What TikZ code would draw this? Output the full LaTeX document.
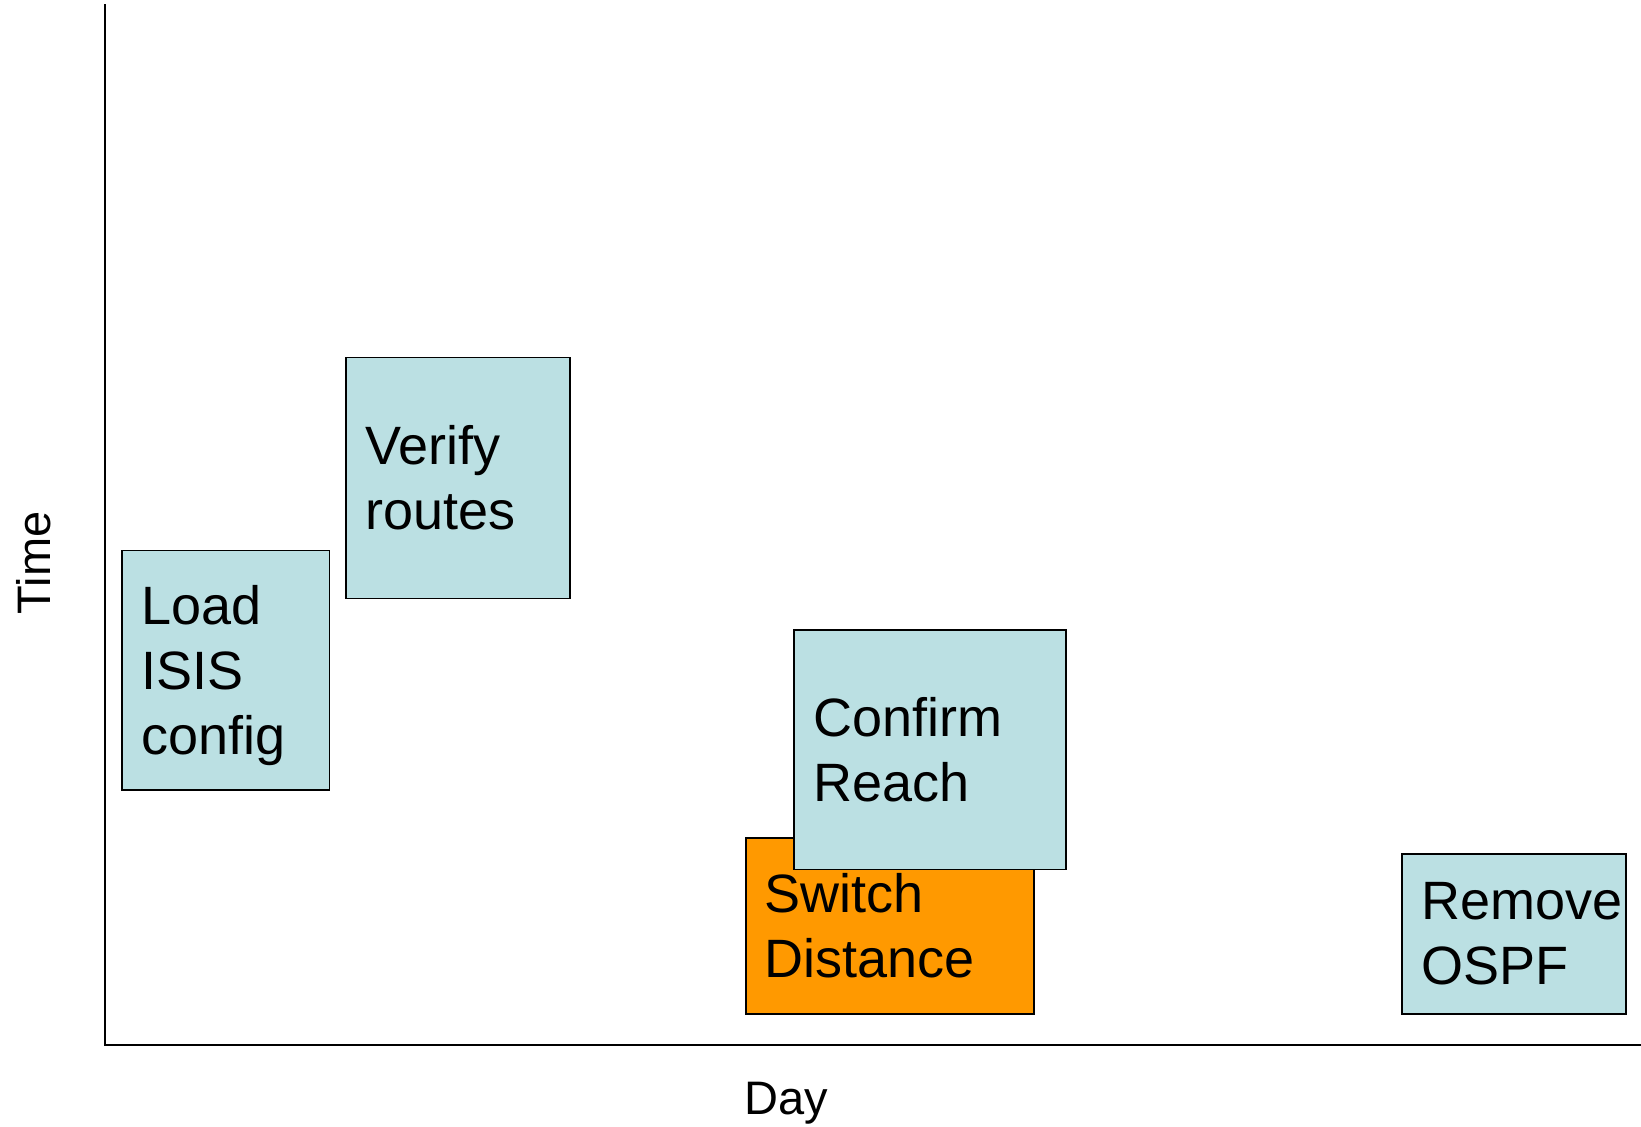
\documentclass[tikz,border=0pt]{standalone}
\usepackage{fontspec}
\setmainfont{Liberation Sans}
\definecolor{taskblue}{HTML}{BBE0E3}
\definecolor{switchorange}{HTML}{FF9900}

\begin{document}
\begin{tikzpicture}[x=1pt,y=-1pt,
  task/.style={draw=black, line width=1.5pt, fill=taskblue, anchor=north west,
    align=left, inner xsep=19pt, inner ysep=0pt,
    font=\fontsize{54}{64.8}\selectfont},
  axislabel/.style={inner sep=0pt, font=\fontsize{47}{56}\selectfont},
  axisline/.style={draw=black, line width=2pt}]
\useasboundingbox (0,0) rectangle (1641,1127);
% axes
\coordinate (top) at (105,4);
\coordinate (origin) at (105,1044.5);
\coordinate (right) at (1641,1044.5);
\draw [axisline] (top) -- (origin) -- (right);
\node [axislabel, rotate=90, anchor=base] (time) at (50,563) {Time};
\node [axislabel, anchor=base] (day) at (786,1114) {Day};
% tasks
\node [task, text width=169.2pt, minimum height=239.6pt] (load) at (121.4,549.5) {Load\\ISIS\\\smash{config}};
\node [task, text width=185.9pt, minimum height=240.7pt] (verify) at (345.4,356.9) {Verify\\routes};
\node [task, fill=switchorange, text width=249.8pt, minimum height=175.8pt] (switch) at (745.2,837.3) {Switch\\Distance};
\node [task, text width=234.1pt, minimum height=239.7pt] (confirm) at (793.3,629) {Confirm\\Reach};
\node [task, text width=186pt, minimum height=160.1pt] (remove) at (1401.4,853) {Remove\\OSPF};
\end{tikzpicture}
\end{document}
